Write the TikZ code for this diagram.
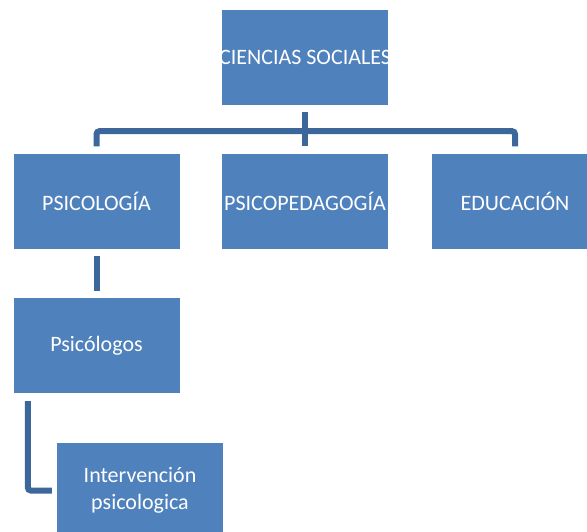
\documentclass[tikz,border=0pt]{standalone}
\usepackage{fontspec}
\setmainfont{Carlito}
\usepackage{tikz}
\usetikzlibrary{calc}
\definecolor{boxblue}{RGB}{79,129,189}
\definecolor{lineblue}{RGB}{60,103,155}

\begin{document}
\begin{tikzpicture}[x=1pt, y=-1pt,
    every node/.style={font=\fontsize{22}{27}\selectfont},
    orgbox/.style={fill=boxblue, text=white, minimum width=166pt, minimum height=95pt, inner sep=0pt, align=center},
    conn/.style={draw=lineblue, line width=6pt, rounded corners=3pt}]
  \clip (0,0) rectangle (587,531);
  % top level
  \node[orgbox] (ciencias) at (305,57.5) {\makebox[0pt]{CIENCIAS SOCIALES}};
  % second level
  \node[orgbox] (psicologia) at (96.5,201) {PSICOLOGÍA};
  \node[orgbox] (psicoped) at (305,201) {PSICOPEDAGOGÍA};
  \node[orgbox] (educacion) at (515,201) {EDUCACIÓN};
  % third and fourth level
  \node[orgbox] (psicologos) at (96.5,345.5) {Psicólogos};
  \node[orgbox] (intervencion) at (140,490.5) {Intervención\\psicologica};
  % connectors
  \coordinate (split) at ($(ciencias.south)!0.54!(psicoped.north)$);
  \draw[conn] ([yshift=-7pt]ciencias.south) -- ([yshift=7pt]psicoped.north);
  \draw[conn] ([yshift=7pt]psicologia.north) |- (split) -| ([yshift=7pt]educacion.north);
  \draw[conn] ([yshift=-7pt]psicologia.south) -- ([yshift=7pt]psicologos.north);
  \draw[conn] ([xshift=14.5pt,yshift=-8pt]psicologos.south west) |- ([xshift=-5pt]intervencion.west);
\end{tikzpicture}
\end{document}
